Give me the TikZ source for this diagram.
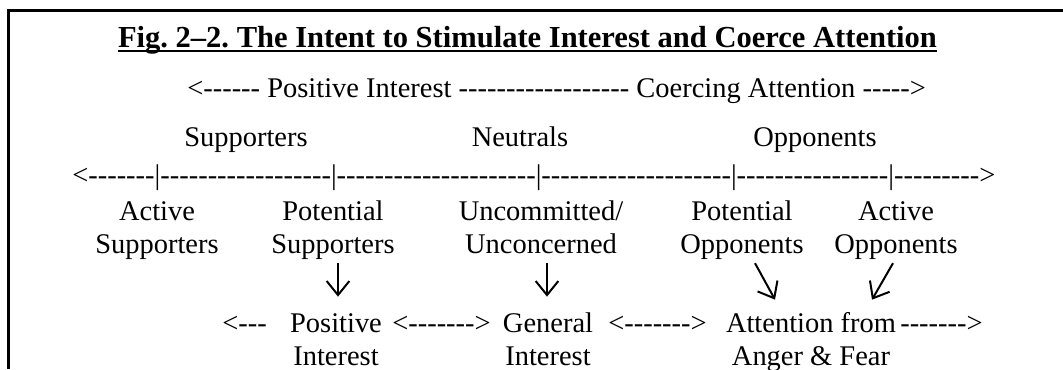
\documentclass[tikz,border=0pt]{standalone}
\usepackage{fontspec}
\setmainfont{Liberation Serif}[Ligatures=TeXOff]
\usetikzlibrary{arrows.meta,calc}
\frenchspacing
\newcommand\rfont{\fontsize{21.35}{24.75}\selectfont}
\newcommand\tfont{\fontsize{22.9}{27}\selectfont\bfseries}
\newcommand\twol[2]{\begin{tabular}[t]{@{}c@{}}#1\\#2\end{tabular}}
\begin{document}
\begin{tikzpicture}[x=0.75pt,y=-0.75pt,
  txt/.style={inner sep=0pt, anchor=base, font=\rfont},
  arr/.style={line width=1.5pt, -{Straight Barb[length=10.5pt,width=17pt]}},
  bordr/.style={line width=2.25pt}]
\useasboundingbox (0,0) rectangle (1063,369);
% frame
\coordinate (fr1) at (8.5,369);
\coordinate (fr2) at (8.5,10.5);
\coordinate (fr3) at (1063,10.5);
\draw[bordr] (fr1) -- (fr2) -- (fr3);
% title
\node[inner sep=0pt, anchor=base, font=\tfont] (T) at (527.5,47) {Fig. 2–2. The Intent to Stimulate Interest and Coerce Attention};
\draw[line width=1.5pt] ($(T.base west)+(0,4)$) -- ($(T.base east)+(0,4)$);
% row 2
\node[txt, anchor=base west] (R2) at (187,97) {<------ Positive Interest ------------------ Coercing Attention ----->};
% row 3
\node[txt] (sup) at (246,146) {Supporters};
\node[txt] (neu) at (520,146) {Neutrals};
\node[txt] (opp) at (815,146) {Opponents};
% row 4
\node[txt, anchor=base west] (scale) at (72,184) {<-------|------------------|---------------------|--------------------|----------------|--------->};
% row 5
\node[txt] (actS) at (157,220) {\twol{Active}{Supporters}};
\node[txt] (potS) at (333,220) {\twol{Potential}{Supporters}};
\node[txt] (unc) at (541,220) {\twol{Uncommitted/}{Unconcerned}};
\node[txt] (potO) at (742,220) {\twol{Potential}{Opponents}};
\node[txt] (actO) at (896,220) {\twol{Active}{Opponents}};
% row 7
\node[txt, anchor=base west] (l1) at (222,332) {<---};
\node[txt] (pos) at (336,332) {\twol{Positive}{Interest}};
\node[txt, anchor=base west] (l2) at (392,332) {<------->};
\node[txt] (gen) at (548,332) {\twol{General}{Interest}};
\node[txt, anchor=base west] (l3) at (608,332) {<------->};
\node[txt] (att) at (811,332) {\twol{Attention from}{Anger \& Fear}};
\node[txt, anchor=base west] (l4) at (900,332) {------->};
% arrows
\draw[arr] ($(potS.south)+(5,0)$) -- ($(pos.north)+(2,-12)$);
\draw[arr] ($(unc.south)+(6,0)$) -- ($(gen.north)+(-1,-12)$);
\draw[arr] ($(potO.south)+(13,0)$) -- ($(att.north)+(-36,-9)$);
\draw[arr] ($(actO.south)+(-3,0)$) -- ($(att.north)+(61,-9)$);
\end{tikzpicture}
\end{document}
